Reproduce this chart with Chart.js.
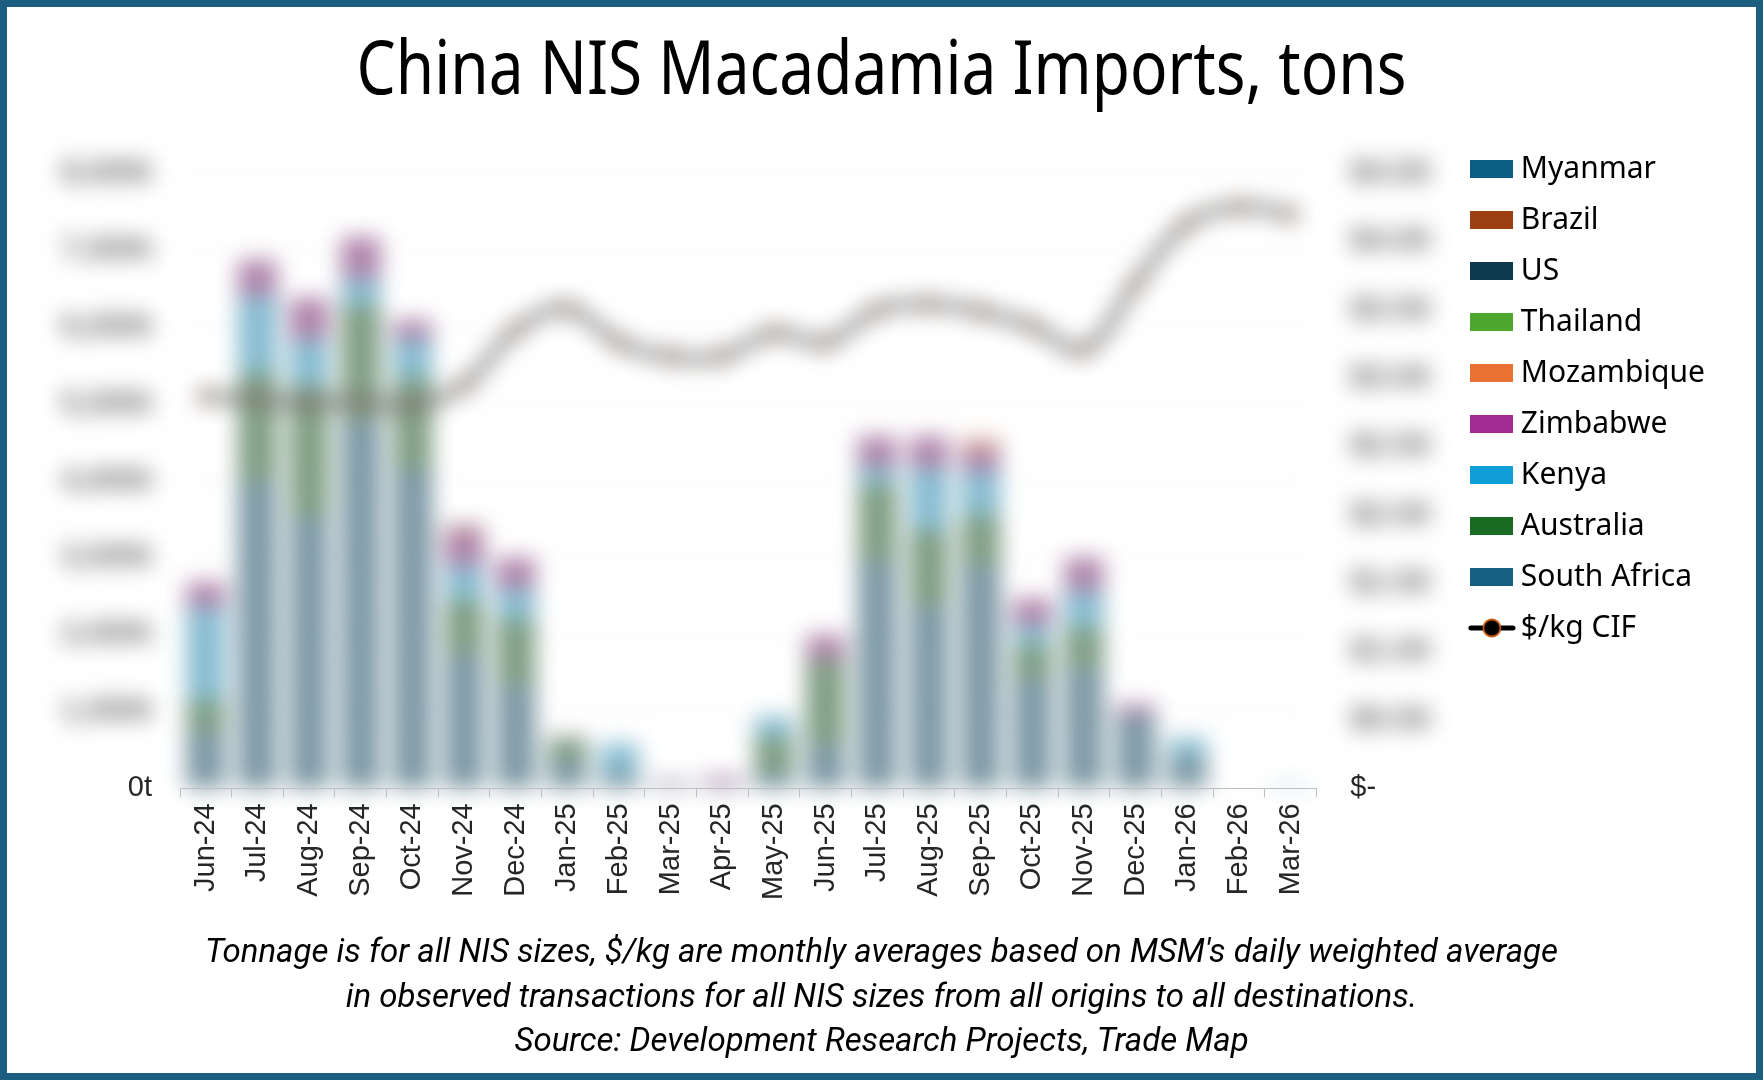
<!DOCTYPE html>
<html>
<head>
<meta charset="utf-8">
<title>China NIS Macadamia Imports, tons</title>
<script src="https://cdn.jsdelivr.net/npm/chart.js@4.4.1/dist/chart.umd.min.js"></script>
<style>
  html, body { margin: 0; padding: 0; background: #fff; }
  body { position: relative; width: 1763px; height: 1080px; overflow: hidden; }
  #title {
    position: absolute; left: 0; top: 16px; width: 1763px;
    text-align: center; font-family: "Noto Sans", sans-serif; font-size: 74px;
    line-height: 100px; color: #000; transform: scaleX(0.84);
  }
  .layer { position: absolute; left: 0; top: 120px; width: 1763px; height: 790px; }
  #soft { filter: blur(11px) saturate(0.6) opacity(0.62); }
  #caption {
    position: absolute; left: 0; top: 929px; width: 1763px; text-align: center;
    font-family: Roboto, "Noto Sans", sans-serif;
    font-style: italic; font-size: 33px; line-height: 44.5px; color: #000;
  }
  #frame {
    position: absolute; left: 0; top: 0; width: 1763px; height: 1080px;
    box-sizing: border-box; border: 7px solid #1b5e80; pointer-events: none;
  }
</style>
</head>
<body>
<div id="title">China NIS Macadamia Imports, tons</div>
<div id="soft" class="layer"><canvas id="marks" width="1763" height="790"></canvas></div>
<div class="layer"><canvas id="axes" width="1763" height="790"></canvas></div>
<div id="caption">Tonnage is for all NIS sizes, $/kg are monthly averages based on MSM's daily weighted average<br>in observed transactions for all NIS sizes from all origins to all destinations.<br>Source: Development Research Projects, Trade Map</div>
<div id="frame"></div>

<script>
// monthly tonnage by origin (tons)
const months = ['Jun-24', 'Jul-24', 'Aug-24', 'Sep-24', 'Oct-24', 'Nov-24', 'Dec-24', 'Jan-25',
  'Feb-25', 'Mar-25', 'Apr-25', 'May-25', 'Jun-25', 'Jul-25', 'Aug-25', 'Sep-25', 'Oct-25',
  'Nov-25', 'Dec-25', 'Jan-26', 'Feb-26', 'Mar-26'];
const southAfrica = [750, 4000, 3540, 4780, 4140, 1740, 1350, 350, 200, 60, 50, 200, 570, 2950, 2380, 2900, 1430, 1570, 950, 400, 0, 0];
const australia   = [400, 1400, 1700, 1500, 1200, 700, 850, 300, 0, 0, 0, 460, 1100, 1000, 980, 650, 430, 520, 0, 0, 0, 0];
const kenya       = [1200, 1000, 600, 350, 500, 450, 400, 0, 380, 0, 0, 270, 0, 230, 800, 570, 260, 480, 0, 250, 0, 40];
const zimbabwe    = [330, 470, 540, 540, 250, 470, 400, 20, 0, 40, 100, 0, 320, 400, 420, 300, 350, 430, 140, 0, 0, 0];
const mozambique  = [0, 0, 0, 0, 0, 0, 0, 0, 0, 0, 0, 0, 0, 0, 0, 130, 0, 0, 0, 0, 0, 0];
const thailand    = [0, 0, 0, 0, 0, 0, 0, 0, 0, 0, 0, 0, 0, 0, 0, 0, 0, 0, 0, 0, 0, 0];
const us          = [0, 0, 0, 0, 0, 0, 0, 0, 0, 0, 0, 0, 0, 0, 0, 0, 0, 0, 0, 0, 0, 0];
const brazil      = [0, 0, 0, 0, 0, 60, 0, 0, 0, 0, 0, 0, 0, 0, 0, 0, 0, 0, 0, 0, 0, 0];
const myanmar     = [0, 0, 0, 0, 0, 0, 0, 0, 0, 0, 0, 0, 0, 0, 0, 0, 0, 0, 0, 0, 0, 0];
// $/kg CIF, right axis
const priceCif = [2.87, 2.84, 2.82, 2.83, 2.80, 2.95, 3.35, 3.51, 3.26, 3.16, 3.16, 3.33, 3.26, 3.50, 3.54, 3.49, 3.38, 3.21, 3.69, 4.13, 4.25, 4.20];

// axis ranges
const tonAxis = { max: 8000, step: 1000 };
const priceAxis = { max: 4.5, step: 0.5 };

const hide = 'rgba(0,0,0,0)';
const ink = '#262626';
const axisFamily = '"Liberation Sans", Arial, sans-serif';
const axisFont = { family: axisFamily, size: 29 };
// the zero labels stay crisp; the others only show up as a blurred smudge
const valueFont = (c) => (c.tick && c.tick.value === 0
  ? { family: axisFamily, size: 29 }
  : { family: axisFamily, size: 32, weight: 'bold' });

function swatch(color) {
  const c = document.createElement('canvas');
  c.width = 43; c.height = 18;
  if (color) {
    const g = c.getContext('2d');
    g.fillStyle = color;
    g.fillRect(0, 0, 43, 18);
  }
  return c;
}

function lineSwatch() {
  const c = document.createElement('canvas');
  c.width = 48; c.height = 22;
  const g = c.getContext('2d');
  g.strokeStyle = '#000'; g.lineWidth = 5; g.lineCap = 'round';
  g.beginPath(); g.moveTo(3, 11); g.lineTo(45, 11); g.stroke();
  g.beginPath(); g.arc(24, 11, 8.5, 0, Math.PI * 2);
  g.fillStyle = '#000'; g.fill();
  g.lineWidth = 1.8; g.strokeStyle = '#c55a11'; g.stroke();
  return c;
}

function bar(label, data, color, rank) {
  return {
    type: 'bar', label, data, backgroundColor: color, yAxisID: 'y', stack: 'tons',
    order: 1, rank, barPercentage: 0.76, categoryPercentage: 1
  };
}

// soft = the blurred layer with the marks, otherwise the crisp axis/legend layer
function buildConfig(soft) {
  return {
    type: 'bar',
    data: {
      labels: months,
      datasets: [
        bar('South Africa', southAfrica, '#156082', 8),
        bar('Australia', australia, '#196b24', 7),
        bar('Kenya', kenya, '#0f9ed5', 6),
        bar('Zimbabwe', zimbabwe, '#a02b93', 5),
        bar('Mozambique', mozambique, '#e97132', 4),
        bar('Thailand', thailand, '#4ea72e', 3),
        bar('US', us, '#0e3a4f', 2),
        bar('Brazil', brazil, '#9a4012', 1),
        bar('Myanmar', myanmar, '#0c5f84', 0),
        {
          type: 'line', label: '$/kg CIF', data: priceCif, yAxisID: 'y1', order: 0, rank: 9,
          borderColor: '#000', borderWidth: 8, tension: 0.4,
          pointRadius: 7, pointBackgroundColor: '#000', pointBorderColor: '#c55a11', pointBorderWidth: 2
        }
      ]
    },
    options: {
      responsive: false,
      animation: false,
      devicePixelRatio: 1,
      layout: { padding: { left: 20, right: 48, top: 13, bottom: 4 } },
      scales: {
        x: {
          stacked: true,
          grid: { drawOnChartArea: false, drawTicks: true, tickLength: 9, offset: true, color: soft ? hide : '#bfbfbf' },
          border: { display: true, color: soft ? hide : '#bfbfbf' },
          ticks: { minRotation: 90, maxRotation: 90, autoSkip: false, padding: 6, color: soft ? hide : ink, font: axisFont }
        },
        y: {
          stacked: true, min: 0, max: tonAxis.max,
          grid: { drawTicks: false, color: soft ? '#d9d9d9' : hide },
          border: { display: false },
          ticks: {
            stepSize: tonAxis.step, padding: 28, font: valueFont,
            color: (c) => ((c.tick.value === 0) === soft ? hide : (soft ? '#000' : ink)),
            callback: (v) => (v === 0 ? '0t' : v.toLocaleString('en-US') + 't')
          },
          afterFit: (s) => { s.width = 160; }
        },
        y1: {
          position: 'right', min: 0, max: priceAxis.max,
          grid: { drawOnChartArea: false, drawTicks: false },
          border: { display: false },
          ticks: {
            stepSize: priceAxis.step, padding: 34, font: valueFont,
            color: (c) => ((c.tick.value === 0) === soft ? hide : (soft ? '#000' : ink)),
            callback: (v) => (v === 0 ? '$-' : '$' + v.toFixed(2))
          },
          afterFit: (s) => { s.width = 140.5; }
        }
      },
      plugins: {
        tooltip: { enabled: false },
        // empty spacer above the plot only, so the legend can start higher
        title: { display: true, text: ' ', fullSize: false, padding: { top: 37, bottom: 0 }, font: { size: 1 }, color: hide },
        legend: {
          position: 'right',
          align: 'start',
          labels: {
            usePointStyle: true,
            pointStyleWidth: 28,
            boxHeight: 18,
            padding: 21,
            color: soft ? hide : '#000',
            font: { family: '"Noto Sans", sans-serif', size: 30 },
            sort: (a, b, data) => data.datasets[a.datasetIndex].rank - data.datasets[b.datasetIndex].rank,
            generateLabels: (chart) => {
              const items = Chart.defaults.plugins.legend.labels.generateLabels(chart);
              items.forEach((it) => {
                const ds = chart.data.datasets[it.datasetIndex];
                if (soft) it.pointStyle = swatch(null);
                else it.pointStyle = ds.type === 'line' ? lineSwatch() : swatch(ds.backgroundColor);
                it.fontColor = soft ? hide : '#000';
              });
              return items;
            }
          }
        }
      }
    },
    plugins: soft ? [] : [{ id: 'axesOnly', beforeDatasetsDraw: () => false }]
  };
}

new Chart(document.getElementById('marks'), buildConfig(true));
new Chart(document.getElementById('axes'), buildConfig(false));
</script>
</body>
</html>
